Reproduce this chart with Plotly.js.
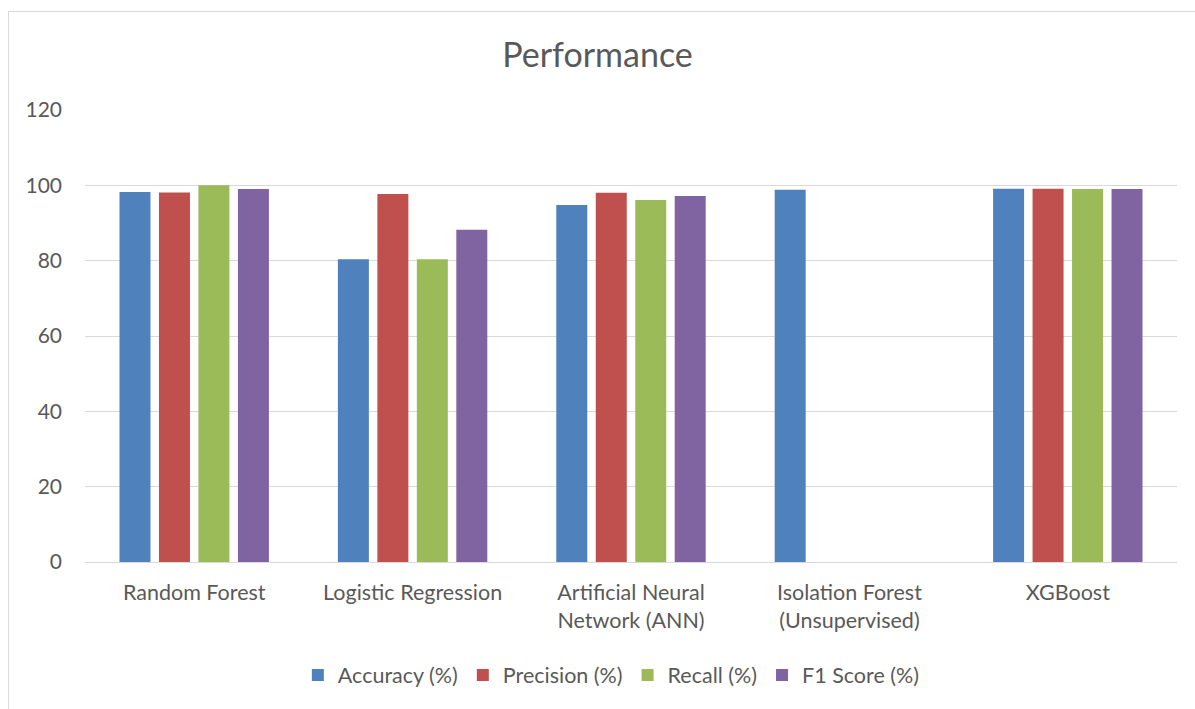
<!DOCTYPE html>
<html>
<head>
<meta charset="utf-8">
<script src="https://cdn.plot.ly/plotly-3.0.1.min.js"></script>
<style>
  html, body { margin: 0; padding: 0; background: #fff; }
  #wrap { position: relative; width: 1195px; height: 709px; overflow: hidden; }
  #chart { position: absolute; left: 0; top: 0; width: 1195px; height: 709px; }
  #frame { position: absolute; left: 8px; top: 11px; width: 1300px; height: 800px; border: 1px solid #d9d9d9; box-sizing: border-box; pointer-events: none; }
</style>
</head>
<body>
<div id="wrap">
  <div id="chart"></div>
  <div id="frame"></div>
</div>
<script>
const categories = ["Random Forest", "Logistic Regression", "Artificial Neural<br>Network (ANN)", "Isolation Forest<br>(Unsupervised)", "XGBoost"];
const accuracy  = [98.2, 80.4, 94.8, 98.8, 99.1];
const precision = [98.1, 97.7, 98.0, null, 99.1];
const recall    = [100.0, 80.4, 96.1, null, 99.0];
const f1score   = [99.0, 88.2, 97.2, null, 99.0];
const seriesNames = ["Accuracy (%)", "Precision (%)", "Recall (%)", "F1 Score (%)"];
const yTicks = [0, 20, 40, 60, 80, 100, 120];

const colors = ["#4f81bd", "#c0504d", "#9bbb59", "#8064a2"];
const seriesValues = [accuracy, precision, recall, f1score];
const FONT = "Lato, 'Open Sans', sans-serif";

const traces = seriesValues.map((vals, i) => ({
  type: "bar",
  name: seriesNames[i],
  x: categories,
  y: vals,
  marker: { color: colors[i], line: { width: 0 } },
  hoverinfo: "x+y+name"
}));

const layout = {
  width: 1195,
  height: 709,
  margin: { l: 85, r: 18, t: 110, b: 147, pad: 0 },
  paper_bgcolor: "rgba(0,0,0,0)",
  plot_bgcolor: "rgba(0,0,0,0)",
  title: {
    text: "Performance",
    font: { family: FONT, size: 34, color: "#595959" },
    x: 0.5, xanchor: "center",
    y: 1 - 55 / 709, yanchor: "middle", yref: "container"
  },
  barmode: "group",
  bargap: 0.277,
  bargroupgap: 0.215,
  xaxis: {
    type: "category",
    tickfont: { family: FONT, size: 21.5, color: "#595959" },
    showline: true, linecolor: "#d9d9d9", linewidth: 1,
    showgrid: false, zeroline: false,
    ticks: "", ticklabelstandoff: 11
  },
  yaxis: {
    range: [0, 120],
    tickvals: yTicks,
    ticktext: yTicks.map(String),
    tickfont: { family: FONT, size: 21, color: "#595959" },
    showgrid: true, gridcolor: "#d9d9d9", gridwidth: 1,
    zeroline: false, showline: false, ticks: "",
    ticklabelstandoff: 22
  },
  legend: {
    orientation: "h",
    x: 0.482, xanchor: "center",
    y: 1 - 675 / 709, yref: "container", yanchor: "middle",
    font: { family: FONT, size: 21.5, color: "#595959" },
    itemwidth: 30,
    traceorder: "normal"
  },
  showlegend: true
};

Plotly.newPlot("chart", traces, layout, { displayModeBar: false, staticPlot: true });
</script>
</body>
</html>
